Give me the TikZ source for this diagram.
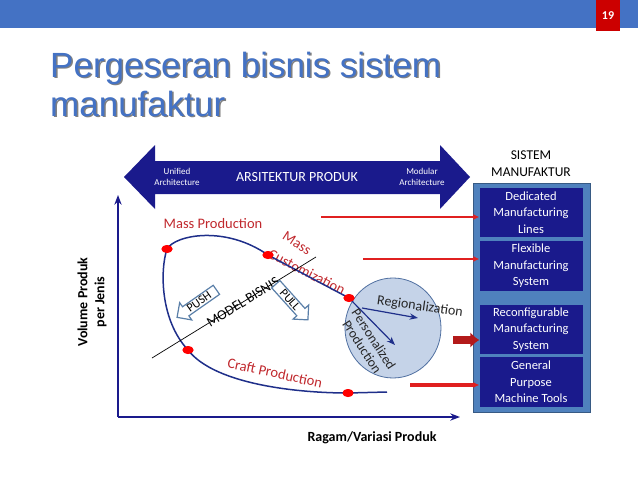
\documentclass[tikz,border=0pt]{standalone}
\usepackage{fontspec}
\setmainfont{Carlito}
\newfontfamily\titlefont{Liberation Sans}
\usetikzlibrary{arrows.meta,shapes.arrows,shapes.geometric,positioning}
\definecolor{barblue}{HTML}{4472C4}
\definecolor{darkblue}{HTML}{1A1A8C}
\definecolor{steel}{HTML}{4F81BD}
\definecolor{curveblue}{HTML}{1F2F8A}
\definecolor{mred}{HTML}{C0282D}
\definecolor{arrred}{HTML}{E02020}
\definecolor{ovalfill}{HTML}{C5D3E8}
\definecolor{ovaldraw}{HTML}{4F6FA0}
\definecolor{hollow}{HTML}{5A7FA8}
\begin{document}
\begin{tikzpicture}[x=1pt,y=-1pt,>=Stealth,
  sysbox/.style={fill=darkblue,text=white,minimum width=103pt,align=center,font=\fontsize{12.5}{16.5}\selectfont,inner sep=0pt},
  redlbl/.style={text=mred,font=\fontsize{14.5}{17}\selectfont},
  dot/.style={fill=red,ellipse,minimum width=11pt,minimum height=8pt,inner sep=0pt},
  pusharrow/.style={single arrow,draw=hollow,line width=1.2pt,fill=white,font=\fontsize{12}{13}\selectfont,inner sep=1pt,single arrow head extend=5pt,minimum height=48pt},
  redarrow/.style={-{Latex[length=6pt,width=6pt]},draw=arrred,line width=2.5pt}]
  \useasboundingbox (0,0) rectangle (638,479);
  % top bar
  \fill[barblue] (0,0) rectangle (638,28);
  \fill[red!80!black] (596,0) rectangle (620,31);
  \node[text=white,font=\fontsize{12}{13}\selectfont\bfseries] (num) at (608,16) {19};
  % title
  \foreach \dd/\cc in {1.5/black!50,0/barblue}
    \node[anchor=west,text=\cc,font=\titlefont\fontsize{35}{39}\selectfont,align=left,inner sep=0pt]
      at (50+\dd,84+\dd) {Pergeseran bisnis sistem\\manufaktur};
  % architecture arrow
  \fill[darkblue] (124,177) -- (155,145) -- (155,161) -- (440,161) -- (440,145)
    -- (470,177) -- (440,209) -- (440,194) -- (155,194) -- (155,209) -- cycle;
  \node[text=white,font=\fontsize{14}{16}\selectfont] (arsi) at (297,177) {ARSITEKTUR PRODUK};
  \node[text=white,font=\fontsize{9}{11.5}\selectfont,align=center] (unif) at (177,177) {Unified\\Architecture};
  \node[text=white,font=\fontsize{9}{11.5}\selectfont,align=center] (modu) at (422,177) {Modular\\Architecture};
  % axes
  \coordinate (org) at (118,417);
  \coordinate (ytop) at (118,195);
  \coordinate (xend) at (460,417);
  \draw[darkblue,line width=1.5pt,->] (org) -- (ytop);
  \draw[darkblue,line width=1.5pt,->] (org) -- (xend);
  \node[rotate=90,align=center,font=\fontsize{14}{17}\selectfont\bfseries] (ylab) at (92,302) {Volume Produk\\per Jenis};
  \node[font=\fontsize{14}{17}\selectfont\bfseries] (xlab) at (372,438) {Ragam/Variasi Produk};
  % manufacturing systems
  \node[align=center,font=\fontsize{13.5}{17}\selectfont] (sistem) at (531,164) {SISTEM\\MANUFAKTUR};
  \fill[steel,draw=steel!70!black] (473,183) rectangle (590,412);
  \node[sysbox,minimum height=49pt] (ded) at (531,212.5) {Dedicated\\Manufacturing\\Lines};
  \node[sysbox,minimum height=50pt] (flex) at (531,266) {Flexible\\Manufacturing\\System};
  \node[sysbox,minimum height=49pt] (reco) at (531,329.5) {Reconfigurable\\Manufacturing\\System};
  \node[sysbox,minimum height=50pt] (gen) at (531,382) {General\\Purpose\\Machine Tools};
  \node[redlbl,rotate=-27] (mcu2) at (307,272) {Customization};
  % oval
  \node[ellipse,fill=ovalfill,draw=ovaldraw,line width=0.8pt,minimum width=96pt,minimum height=100pt] (oval) at (393,328) {};
  % curve
  \node[dot] (d1) at (167,249) {};
  \node[dot] (d2) at (268,255) {};
  \node[dot] (d3) at (349,298) {};
  \node[dot] (d4) at (188,350) {};
  \node[dot] (d5) at (348,393) {};
  \coordinate (cend) at (387,392);
  \draw[curveblue,line width=1.5pt] (d3.center) -- (d2.center) .. controls (225,225) and (175,235) .. (d1.center)
    .. controls (160,270) and (160,320) .. (d4.center) .. controls (215,385) and (300,393) .. (d5.center) -- (cend);
  \draw[curveblue,line width=1.2pt,->] (d3.center) -- (395,345);
  \draw[curveblue,line width=1.2pt,->] (362,308) -- (418,318);
  \node[dot] at (167,249) {};
  \node[dot] at (268,255) {};
  \node[dot] at (349,298) {};
  \node[dot] at (188,350) {};
  \node[dot] at (348,393) {};
  % model bisnis
  \coordinate (mb1) at (152,358);
  \coordinate (mb2) at (316,257);
  \draw[black,line width=0.7pt] (mb1) -- (mb2);
  \node[rotate=31.6,font=\fontsize{14}{16}\selectfont] (mbis) at (243,302) {MODEL BISNIS};
  \node[pusharrow,shape border rotate=180,rotate=35] (push) at (199,302) {PUSH};
  \node[pusharrow,rotate=-48] (pull) at (290,300) {PULL};
  % labels
  \node[redlbl] (mass) at (213,224) {Mass Production};
  \node[redlbl,rotate=-33] (mcu1) at (297,243) {Mass};
  \node[redlbl,rotate=-12] (craft) at (275,373) {Craft Production};
  \node[text=black!85,font=\fontsize{14}{16}\selectfont,rotate=-8] (regi) at (420,307) {Regionalization};
  \node[text=black!85,font=\fontsize{13.5}{14}\selectfont,rotate=-57,align=center] (pers) at (368,343) {Personalized\\Production};
  % red arrows
  \coordinate (r1) at (321,217);
  \coordinate (r2) at (363,259);
  \coordinate (r3) at (453,340);
  \coordinate (r4) at (410,385);
  \draw[redarrow] (r1) -- (ded.west |- r1);
  \draw[redarrow] (r2) -- (flex.west |- r2);
  \draw[-{Latex[length=9pt,width=16pt]},draw=arrred!80!black,line width=8pt] (r3) -- (reco.west |- r3);
  \draw[redarrow,line width=4pt] (r4) -- (gen.west |- r4);
\end{tikzpicture}
\end{document}
